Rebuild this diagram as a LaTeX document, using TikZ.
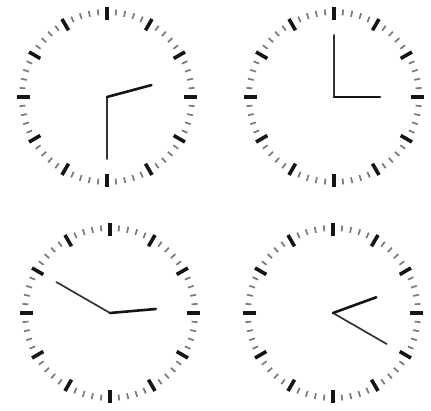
\documentclass[tikz,border=0pt]{standalone}
\usepackage{xcolor}
\definecolor{ckink}{HTML}{151515}
\definecolor{ckhand}{HTML}{333333}
\definecolor{ckmin}{HTML}{7A7A7A}
\usepackage{tikz}
\usetikzlibrary{calc}
\tikzset{
  ckhourtick/.style={draw=ckink, line width=3.6pt},
  ckmintick/.style ={draw=ckmin, line width=1.7pt},
  ckhourhand/.style={draw=ckink, line width=2.6pt, line cap=round},
  ckminhand/.style ={draw=ckhand, line width=1.7pt, line cap=round},
}

\begin{document}
\begin{tikzpicture}[x=1pt, y=1pt]
  \useasboundingbox (0,0) rectangle (431,410);
  % name / centre / hour angle / minute angle
  \foreach \ck/\cx/\cy/\ha/\ma in {a/107/313/15/-90, b/334/313/0/90,
                                   c/110/97/5/150, d/333/97/20/-30}{
    \coordinate (\ck) at (\cx,\cy);
    \foreach \t in {0,6,...,354}
      \draw[ckmintick] ($(\ck)+(\t:82)$) -- ($(\ck)+(\t:88)$);
    \foreach \t in {0,30,...,330}
      \draw[ckhourtick] ($(\ck)+(\t:77)$) -- ($(\ck)+(\t:90)$);
    \coordinate (\ck-h) at ($(\ck)+(\ha:46)$);
    \coordinate (\ck-m) at ($(\ck)+(\ma:62)$);
    \draw[ckminhand] (\ck) -- (\ck-m);
    \draw[ckhourhand] (\ck) -- (\ck-h);
  }
\end{tikzpicture}
\end{document}
